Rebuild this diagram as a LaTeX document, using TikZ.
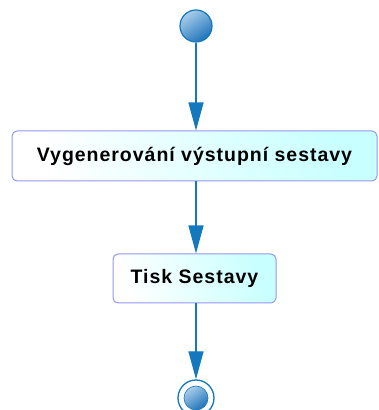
\documentclass[tikz,border=0pt]{standalone}
\usepackage{fontspec}
\setmainfont{Liberation Sans}
\usetikzlibrary{arrows.meta}
\definecolor{flow}{RGB}{20,120,190}
\definecolor{boxline}{RGB}{150,150,240}
\definecolor{boxfill}{RGB}{200,255,255}
\definecolor{balllight}{RGB}{170,205,235}
\definecolor{balldark}{RGB}{30,115,185}
\tikzset{
  actbox/.style={draw=boxline, line width=1pt, rounded corners=5pt,
    left color=white, right color=boxfill, shading angle=110,
    font=\bfseries\fontsize{19.5}{21}\selectfont, inner sep=0pt,
    text=black},
  flowline/.style={draw=flow, line width=1.3pt,
    -{Triangle[length=28pt,width=15pt]}},
  startnode/.style={circle, draw=flow, line width=1.2pt, minimum size=32pt,
    inner sep=0pt, top color=balllight, bottom color=balldark, shading angle=35},
}
\begin{document}
\begin{tikzpicture}[x=1pt,y=1pt]
  \useasboundingbox (0,0) rectangle (379,410);
  % initial node
  \node[startnode] (start) at (196,384) {};
  % activities
  \node[actbox, minimum width=365pt, minimum height=50pt] (gen) at (194.5,254)
    {\addfontfeature{LetterSpace=5}Vygenerování výstupní sestavy};
  \node[actbox, minimum width=163pt, minimum height=49pt] (tisk) at (194.5,131.5)
    {\addfontfeature{LetterSpace=5}Tisk Sestavy};
  % final node
  \node[circle, draw=flow, line width=1.3pt, minimum size=36pt, inner sep=0pt,
        fill=white] (end) at (196,12) {};
  \node[circle, inner sep=0pt, minimum size=24pt, draw=flow, line width=0.6pt,
        top color=balllight, bottom color=balldark, shading angle=35] (endin) at (end.center) {};
  % flow, kept vertical under the initial node
  \draw[flowline] (start) -- (start |- gen.north);
  \draw[flowline] (start |- gen.south) -- (start |- tisk.north);
  \draw[flowline] (start |- tisk.south) -- (end);
\end{tikzpicture}
\end{document}
